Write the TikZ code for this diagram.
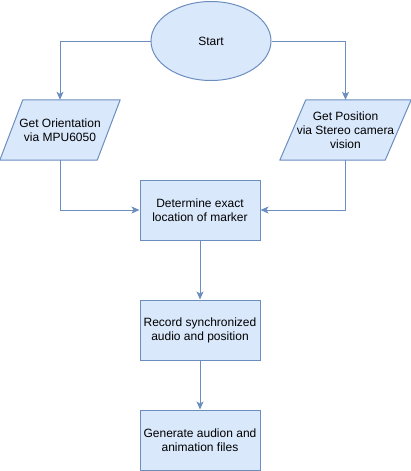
\documentclass[tikz,border=0pt]{standalone}
\usepackage{fontspec}
\setmainfont{Liberation Sans}
\usepackage{tikz}
\usetikzlibrary{shapes.geometric, arrows.meta, backgrounds}
\definecolor{boxfill}{HTML}{DAE8FC}
\definecolor{boxline}{HTML}{6C8EBF}
\tikzstyle{startstop} = [ellipse, minimum width=120pt, minimum height=79pt, text centered, draw=boxline, fill=boxfill, line width=1pt, font=\fontsize{12}{14}\selectfont]
\tikzstyle{io} = [rectangle, minimum width=120pt, minimum height=60pt, inner xsep=0pt, align=center, font=\fontsize{12}{14}\selectfont]
\tikzstyle{iobox} = [draw=boxline, fill=boxfill, line width=1pt, line join=round]
\tikzstyle{process} = [rectangle, minimum width=120pt, minimum height=60pt, align=center, draw=boxline, fill=boxfill, line width=1pt, font=\fontsize{12}{14}\selectfont]
\tikzstyle{arrow} = [draw=boxline, line width=1pt, -{Stealth[length=8pt, width=7pt, inset=2pt]}]

\begin{document}
\begin{tikzpicture}[x=1pt, y=-1pt, node distance=110pt]
    \useasboundingbox (0,0) rectangle (411,471);
    \node (start) [startstop] at (211,41) {Start};
    \node (orient) [io] at (60,130) {Get Orientation\\via MPU6050};
    \node (position) [io, minimum width=131pt] at (345.5,130) {Get Position\\via Stereo camera\\vision};
    \node (locate) [process] at (200,210) {Determine exact\\location of marker};
    \node (record) [process, below of=locate, yshift=-10pt] {Record synchronized\\audio and position};
    \node (generate) [process, below of=record] {Generate audion and\\animation files};

    % parallelograms behind the input nodes
    \begin{scope}[on background layer]
        \draw [iobox] ([xshift=23pt]orient.north west) -- (orient.north east) -- ([xshift=-23pt]orient.south east) -- (orient.south west) -- cycle;
        \draw [iobox] ([xshift=26pt]position.north west) -- (position.north east) -- ([xshift=-26pt]position.south east) -- (position.south west) -- cycle;
    \end{scope}

    \draw [arrow] (start.west) -| (orient.north);
    \draw [arrow] (start.east) -| (position.north);
    \draw [arrow] (orient.south) |- (locate.west);
    \draw [arrow] (position.south) |- (locate.east);
    \draw [arrow] (locate) -- (record);
    \draw [arrow] (record) -- (generate);
\end{tikzpicture}
\end{document}
